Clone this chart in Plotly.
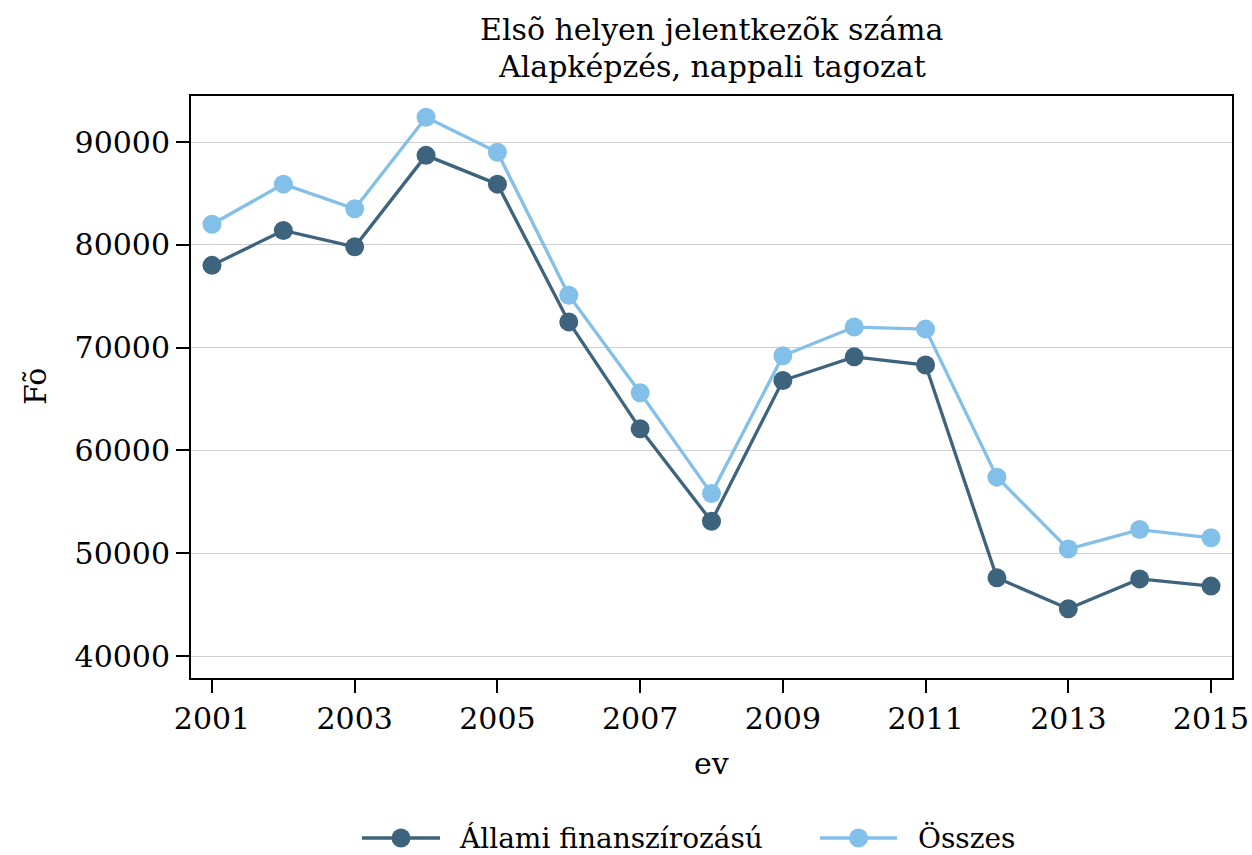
import plotly.graph_objects as go

years = list(range(2001, 2016))
allami = [78000, 81400, 79800, 88700, 85900, 72500, 62100, 53100, 66800, 69100, 68300, 47600, 44600, 47500, 46800]
osszes = [82000, 85900, 83500, 92400, 89000, 75100, 65600, 55800, 69200, 72000, 71800, 57400, 50400, 52300, 51500]
series_names = ["Állami finanszírozású", "Összes"]
colors = ["#3e647d", "#82bfe9"]
title_lines = ["Elsõ helyen jelentkezõk száma", "Alapképzés, nappali tagozat"]
x_title = "ev"
y_title = "Fõ"
x_ticks = list(range(2001, 2016, 2))
y_ticks = [40000, 50000, 60000, 70000, 80000, 90000]

FONT = "DejaVu Serif"
FS = 30

FIG_W, FIG_H = 1252, 855
L, R, T, B = 191, 1232, 96, 678  # plot area in pixels
W, H = R - L, B - T


def px(x):
    return (x - L) / W


def py(y):
    return (B - y) / H


fig = go.Figure()
for name, vals, col in zip(series_names, [allami, osszes], colors):
    fig.add_trace(go.Scatter(
        x=years, y=vals, name=name, mode="lines+markers",
        line=dict(color=col, width=3.3),
        marker=dict(color=col, size=19),
        showlegend=False, cliponaxis=False,
    ))

axis_common = dict(
    showline=True, linecolor="black", linewidth=2, mirror=True,
    ticks="outside", ticklen=13, tickwidth=1.5, tickcolor="black",
    tickfont=dict(family=FONT, size=30, color="black"),
    zeroline=False, automargin=False, ticklabeloverflow="allow",
)

fig.update_layout(
    width=FIG_W, height=FIG_H,
    margin=dict(l=L, r=FIG_W - R, t=T, b=FIG_H - B, pad=0),
    paper_bgcolor="white", plot_bgcolor="white",
    font=dict(family=FONT, size=FS, color="black"),
    xaxis=dict(range=[2000.706, 2015.294], tickvals=x_ticks, tickformat="d",
               showgrid=False, **axis_common),
    yaxis=dict(range=[37860, 94475], tickvals=y_ticks, tickformat="d", showgrid=True,
               gridcolor="#d0d0d0", gridwidth=1, **axis_common),
    showlegend=False,
)

ann_font = dict(family=FONT, size=FS, color="black")
for i, t in enumerate(title_lines):
    fig.add_annotation(text=t, xref="paper", yref="paper", x=0.5, xanchor="center",
                       y=py(30 + 37 * i), yanchor="middle", showarrow=False, font=ann_font)

fig.add_annotation(text=x_title, xref="paper", yref="paper", x=0.5, xanchor="center",
                   y=py(763), yanchor="middle", showarrow=False, font=ann_font)
fig.add_annotation(text=y_title, xref="paper", yref="paper", x=px(35), xanchor="center",
                   y=py(387), yanchor="middle", showarrow=False, textangle=-90, font=ann_font)

# custom legend
leg_font = dict(family=FONT, size=28, color="black")
LEG_PY = 838
leg_y = py(LEG_PY)
leg_items = [(362, 440, 458), (820, 897, 917)]
for (x0, x1, xt), name, col in zip(leg_items, series_names, colors):
    fig.add_shape(type="line", xref="paper", yref="paper", x0=px(x0), x1=px(x1),
                  y0=leg_y, y1=leg_y, line=dict(color=col, width=3.3))
    cx = (x0 + x1) / 2
    r = 9.5
    fig.add_shape(type="circle", xref="paper", yref="paper",
                  x0=px(cx - r), x1=px(cx + r), y0=py(LEG_PY + r), y1=py(LEG_PY - r),
                  fillcolor=col, line=dict(color=col, width=0))
    fig.add_annotation(text=name, xref="paper", yref="paper", x=px(xt), xanchor="left",
                       y=leg_y, yanchor="middle", showarrow=False, font=leg_font,
                       borderpad=0)

fig.write_html(
    "out.html",
    config={"displayModeBar": False},
    post_script="document.body.style.margin='0px';document.body.style.overflow='hidden';",
)
